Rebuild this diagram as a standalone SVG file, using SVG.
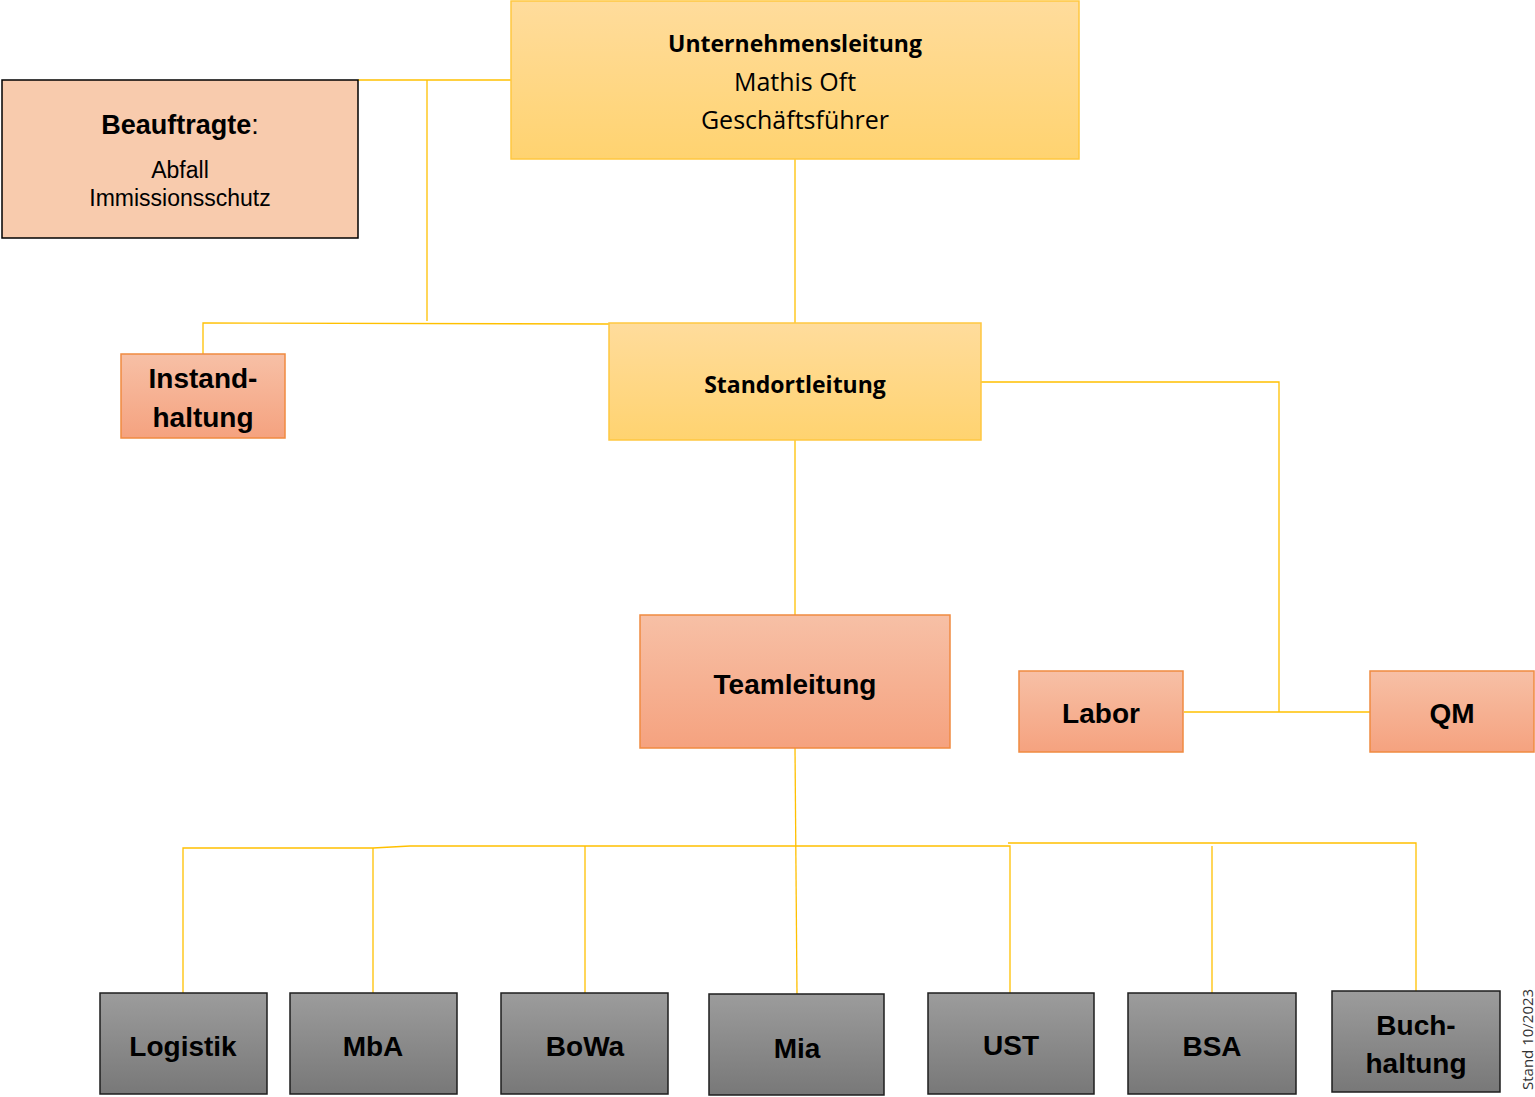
<svg xmlns="http://www.w3.org/2000/svg" width="1535" height="1097" viewBox="0 0 1535 1097">
<defs>
<linearGradient id="gy" x1="0" y1="0" x2="0" y2="1"><stop offset="0" stop-color="#FFDC9C"/><stop offset="1" stop-color="#FFD370"/></linearGradient>
<linearGradient id="go" x1="0" y1="0" x2="0" y2="1"><stop offset="0" stop-color="#F7C0A6"/><stop offset="1" stop-color="#F5A27F"/></linearGradient>
<linearGradient id="gg" x1="0" y1="0" x2="0" y2="1"><stop offset="0" stop-color="#9C9C9C"/><stop offset="1" stop-color="#787878"/></linearGradient>
</defs>
<style>
.y{fill:url(#gy);stroke:#FFC740;stroke-width:1.5}
.o{fill:url(#go);stroke:#F08A40;stroke-width:1.5}
.g{fill:url(#gg);stroke:#1E1E1E;stroke-width:1.5}
.c{fill:none;stroke:#FFC000;stroke-width:1.3}
.t{font-family:"Liberation Sans",Arial,sans-serif;font-weight:bold;font-size:28px;fill:#000;text-anchor:middle}
.n{font-family:"Liberation Sans",Arial,sans-serif;font-size:23px;fill:#000;text-anchor:middle}
.s{font-family:"Open Sans","Noto Sans",sans-serif;font-size:25px;fill:#000;text-anchor:middle}
.sb{font-family:"Open Sans","Noto Sans",sans-serif;font-weight:bold;fill:#000;text-anchor:middle}
</style>
<g id="connectors">
<path class="c" d="M358 80H511"/>
<path class="c" d="M427 80V321"/>
<path class="c" d="M203 354V323L609 324"/>
<path class="c" d="M795 159V323"/>
<path class="c" d="M981 382H1279V712"/>
<path class="c" d="M1184 712H1370"/>
<path class="c" d="M795 440V615"/>
<path class="c" d="M795 748L797 994"/>
<path class="c" d="M183 993V848H373L410 846H1010V994"/>
<path class="c" d="M373 848V993"/>
<path class="c" d="M585 846V993"/>
<path class="c" d="M1008 843H1416V991"/>
<path class="c" d="M1212 846V993"/>
</g>
<g id="unternehmensleitung">
<rect class="y" x="511" y="1" width="568" height="158"/>
<text class="sb" x="795" y="52" font-size="23">Unternehmensleitung</text>
<text class="s" x="795" y="91">Mathis Oft</text>
<text class="s" x="795" y="129">Geschäftsführer</text>
</g>
<g id="beauftragte">
<rect x="2" y="80" width="356" height="158" fill="#F8CBAD" stroke="#000" stroke-width="1.5"/>
<text class="t" x="180" y="134" style="font-size:27px"><tspan>Beauftragte</tspan><tspan style="font-weight:normal">:</tspan></text>
<text class="n" x="180" y="178">Abfall</text>
<text class="n" x="180" y="206">Immissionsschutz</text>
</g>
<g id="instandhaltung">
<rect class="o" x="121" y="354" width="164" height="84"/>
<text class="t" x="203" y="388">Instand-</text>
<text class="t" x="203" y="427">haltung</text>
</g>
<g id="standortleitung">
<rect class="y" x="609" y="323" width="372" height="117"/>
<text class="sb" x="795" y="393" font-size="23">Standortleitung</text>
</g>
<g id="teamleitung">
<rect class="o" x="640" y="615" width="310" height="133"/>
<text class="t" x="795" y="694">Teamleitung</text>
</g>
<g id="labor">
<rect class="o" x="1019" y="671" width="164" height="81"/>
<text class="t" x="1101" y="723">Labor</text>
</g>
<g id="qm">
<rect class="o" x="1370" y="671" width="164" height="81"/>
<text class="t" x="1452" y="723">QM</text>
</g>
<g id="logistik">
<rect class="g" x="100" y="993" width="167" height="101"/>
<text class="t" x="183" y="1056">Logistik</text>
</g>
<g id="mba">
<rect class="g" x="290" y="993" width="167" height="101"/>
<text class="t" x="373" y="1056">MbA</text>
</g>
<g id="bowa">
<rect class="g" x="501" y="993" width="167" height="101"/>
<text class="t" x="585" y="1056">BoWa</text>
</g>
<g id="mia">
<rect class="g" x="709" y="994" width="175" height="101"/>
<text class="t" x="797" y="1058">Mia</text>
</g>
<g id="ust">
<rect class="g" x="928" y="993" width="166" height="101"/>
<text class="t" x="1011" y="1055">UST</text>
</g>
<g id="bsa">
<rect class="g" x="1128" y="993" width="168" height="101"/>
<text class="t" x="1212" y="1056">BSA</text>
</g>
<g id="buchhaltung">
<rect class="g" x="1332" y="991" width="168" height="101"/>
<text class="t" x="1416" y="1035">Buch-</text>
<text class="t" x="1416" y="1073">haltung</text>
</g>
<text x="1533" y="1090" transform="rotate(-90 1533 1090)" font-family="'Open Sans','Noto Sans',sans-serif" font-size="15" fill="#333">Stand 10/2023</text>
</svg>
